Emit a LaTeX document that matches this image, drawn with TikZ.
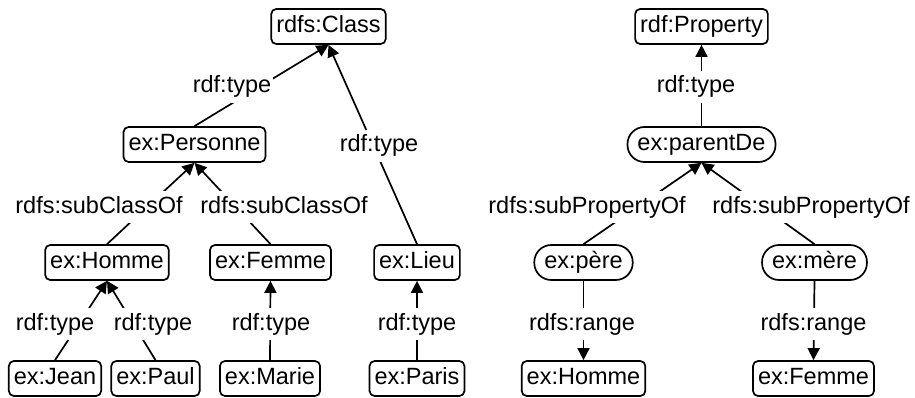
\documentclass[tikz,border=0pt]{standalone}
\usepackage{fontspec}
\setmainfont{Liberation Sans}
\usepackage{tikz}
\usetikzlibrary{arrows.meta,positioning,calc}
\tikzstyle{rdfclass}=[draw,rounded corners=5pt,minimum height=35pt,inner xsep=5pt,inner ysep=6pt,text height=17pt,text depth=5pt]
\tikzstyle{rdfprop}=[draw,rounded corners=17pt,minimum height=35pt,inner xsep=10pt,inner ysep=6pt,text height=17pt,text depth=5pt]
\tikzstyle{rel}=[fill=white,inner xsep=2pt,inner ysep=5pt,text height=17pt,text depth=5pt]
\tikzstyle{link}=[-{Triangle[length=12pt,width=12pt]}]

\begin{document}
\begin{tikzpicture}[x=1pt,y=-1pt,line width=1.7pt,font=\fontsize{23.5}{28}\selectfont]
    \useasboundingbox (0,0) rectangle (915,398);
    \node [rdfclass] (class) at (328.5,26.5) {rdfs:Class};
    \node [rdfclass] (personne) at (194.5,144.5) {ex:Personne};
    \node [rdfclass] (homme) at (107,262.5) {ex:Homme};
    \node [rdfclass] (femme) at (270.5,262.5) {ex:Femme};
    \node [rdfclass] (lieu) at (417,262.5) {ex:Lieu};
    \node [rdfclass] (jean) at (55,378.5) {ex:Jean};
    \node [rdfclass] (paul) at (155.5,378.5) {ex:Paul};
    \node [rdfclass] (marie) at (270,378.5) {ex:Marie};
    \node [rdfclass] (paris) at (417,378.5) {ex:Paris};
    \node [rdfclass] (property) at (701.5,26.5) {rdf:Property};
    \node [rdfprop] (parentde) at (701.5,144.5) {ex:parentDe};
    \node [rdfprop] (pere) at (583.5,262.5) {ex:père};
    \node [rdfprop] (mere) at (814.5,262.5) {ex:mère};
    \node [rdfclass] (homme2) at (583.5,378.5) {ex:Homme};
    \node [rdfclass] (femme2) at (813.5,378.5) {ex:Femme};

    \draw [link] (personne.north) -- (class.south);
    \draw [link] (lieu.north) -- (class.south);
    \draw [link] (homme.north) -- (personne.south);
    \draw [link] (femme.north) -- (personne.south);
    \draw [link] (jean.north) -- (homme.south);
    \draw [link] (paul.north) -- (homme.south);
    \draw [link] (marie.north) -- (femme.south);
    \draw [link] (paris.north) -- (lieu.south);
    \draw [link] (parentde.north) -- (property.south);
    \draw [link] (pere.north) -- (parentde.south);
    \draw [link] (mere.north) -- (parentde.south);
    \draw [link] (pere.south) -- (homme2.north);
    \draw [link] (mere.south) -- (femme2.north);

    \node [rel] (typeperso) at (232,87) {rdf:type};
    \node [rel] (typelieu) at (379,146) {rdf:type};
    \node [rel] (subhomme) at (99,207) {rdfs:subClassOf};
    \node [rel] (subfemme) at (284,207) {rdfs:subClassOf};
    \node [rel] (typejean) at (55,324) {rdf:type};
    \node [rel] (typepaul) at (153,324) {rdf:type};
    \node [rel] (typemarie) at (271,324) {rdf:type};
    \node [rel] (typeparis) at (417,324) {rdf:type};
    \node [rel] (typeparent) at (696,87) {rdf:type};
    \node [rel] (subpere) at (587,207) {rdfs:subPropertyOf};
    \node [rel] (submere) at (811,207) {rdfs:subPropertyOf};
    \node [rel] (rangepere) at (582,324) {rdfs:range};
    \node [rel] (rangemere) at (813.5,324) {rdfs:range};
\end{tikzpicture}
\end{document}
